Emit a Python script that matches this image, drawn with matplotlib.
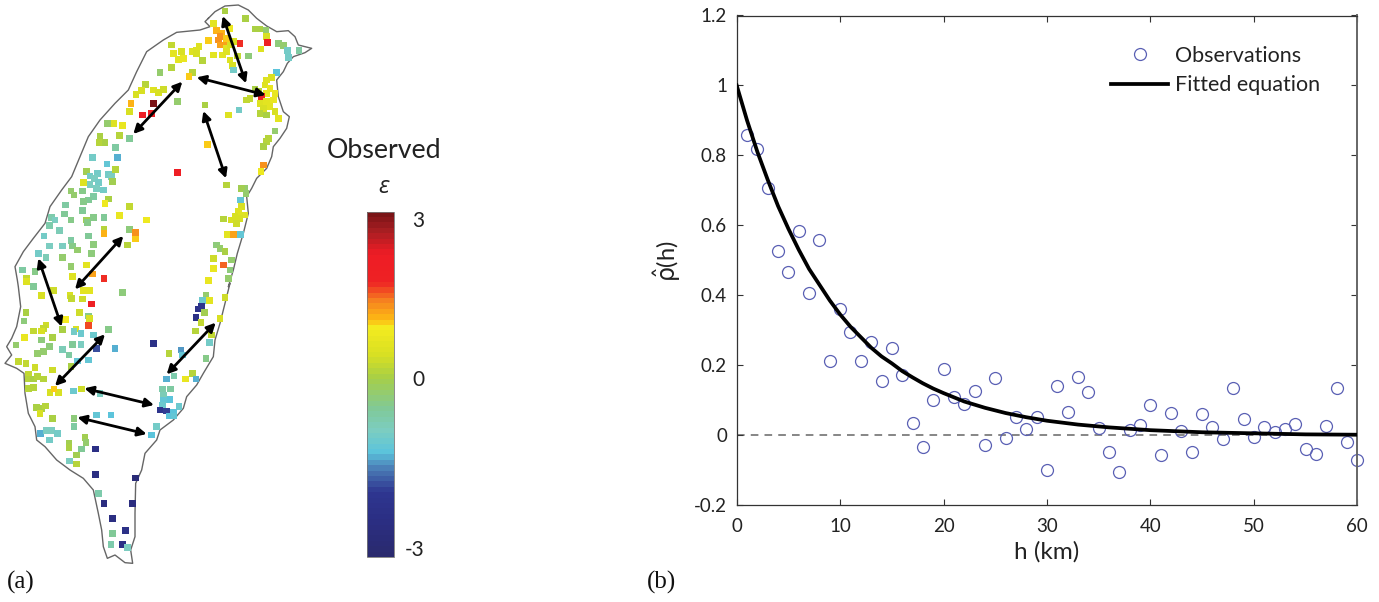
import numpy as np
import matplotlib
matplotlib.use('Agg')
import matplotlib.pyplot as plt
from matplotlib.colors import LinearSegmentedColormap, Normalize
from matplotlib.cm import ScalarMappable

plt.rcParams['font.family'] = ['Lato', 'Open Sans', 'DejaVu Sans']
plt.rcParams['mathtext.fontset'] = 'dejavusans'

# panel (b) data
obs_h = list(range(1, 61))
obs_rho = [0.857, 0.817, 0.708, 0.527, 0.467, 0.585, 0.407, 0.557, 0.212, 0.360,
           0.295, 0.211, 0.265, 0.156, 0.249, 0.173, 0.035, -0.034, 0.100, 0.188,
           0.110, 0.089, 0.125, -0.029, 0.162, -0.008, 0.052, 0.018, 0.051, -0.101,
           0.139, 0.066, 0.166, 0.122, 0.020, -0.049, -0.106, 0.015, 0.028, 0.085,
           -0.057, 0.064, 0.013, -0.048, 0.060, 0.024, -0.012, 0.136, 0.047, -0.006,
           0.023, 0.009, 0.016, 0.033, -0.041, -0.055, 0.027, 0.134, -0.021, -0.071]
fit_h = [0, 1, 2, 3, 4, 5, 6, 7, 8, 9, 10, 11, 12, 13, 14, 15, 16, 17, 18, 19, 20,
         22, 24, 26, 28, 30, 33, 36, 40, 45, 50, 55, 60]
fit_rho = [1.0, 0.90, 0.81, 0.73, 0.655, 0.59, 0.53, 0.475, 0.43, 0.385, 0.345,
           0.31, 0.28, 0.25, 0.225, 0.205, 0.183, 0.165, 0.148, 0.133, 0.12,
           0.096, 0.078, 0.063, 0.051, 0.041, 0.030, 0.022, 0.014, 0.008, 0.005, 0.002, 0.001]
y_ticks = [-0.2, 0, 0.2, 0.4, 0.6, 0.8, 1, 1.2]
y_tick_labels = ['-0.2', '0', '0.2', '0.4', '0.6', '0.8', '1', '1.2']
x_ticks = [0, 10, 20, 30, 40, 50, 60]

# panel (a) data, map units, north and south sheets
north_stations = [
    (675,33,.15),(737,55,.15),(765,87,.15),(780,87,.15),(798,90,-.1),(800,110,.5),(802,127,2.0),(835,130,-.2),
    (850,137,-.1),(862,152,-.9),(897,152,-.5),(865,172,-.9),(783,147,.6),(720,130,1.7),(745,168,-.2),(640,70,.7),
    (650,92,1.2),(665,100,1.2),(680,115,1.1),(655,120,1.4),(670,135,1.3),(625,122,1.1),(660,135,1.3),(680,145,.7),
    (690,135,.5),(700,125,.5),(640,165,.7),(668,165,.7),(690,180,.6),(697,197,.5),(700,210,-.9),(712,168,.3),
    (680,155,.6),(660,110,1.4),(690,85,.9),(515,135,.3),(520,160,.7),(545,155,.5),(535,178,.7),(550,175,.8),
    (578,155,.6),(590,150,.6),(597,140,.6),(590,160,.5),(607,182,.2),(515,203,.2),(480,217,-.1),(578,217,.2),
    (567,230,1.1),(830,217,-1.2),(815,232,.5),(800,240,.6),(795,255,.6),(810,265,.8),(825,280,.8),(800,280,.8),
    (785,290,1.8),(775,275,.2),(765,268,.1),(750,295,.3),(740,300,.3),(780,310,.6),(800,305,.7),(820,300,.8),
    (810,320,.7),(790,325,.5),(780,340,.2),(800,345,.1),(825,335,.5),(835,355,.7),(717,330,-.9),(685,345,.6),
    (615,315,.1),(532,305,-.1),(437,253,.2),(425,272,.5),(408,283,.5),(460,270,.6),(475,277,.5),(490,268,.4),
    (393,310,1.2),(460,310,3.0),(388,335,.5),(428,345,2.1),(455,340,1.9),(322,370,-.1),(342,370,.6),(368,376,.8),
    (300,408,.1),(358,407,.2),(388,415,-.4),(297,427,.2),(315,427,.1),(347,442,-.5),(352,473,-1.3),(278,473,-.9),
    (321,492,-1.1),(347,508,.2),(260,515,.0),(293,520,-.9),(270,528,-.9),(325,523,-.9),(335,530,-.8),(250,548,.6),
    (337,545,.0),(283,535,-.8),(295,548,-.9),(270,553,-.8),(310,570,-.9),(290,565,-.8),(213,573,-.1),(222,585,-.1),
    (248,573,-.3),(280,590,-.5),(265,600,-.4),(250,605,-.3),(325,597,.1),(315,610,.9),(197,615,-.5),(247,632,-.4),
    (388,620,.3),(193,642,-.4),(358,647,.8),(440,660,.9),(155,652,-.6),(165,660,-.8),(213,660,-.3),(260,660,.0),
    (280,652,-.3),(312,652,-.4),(262,668,-.3),(148,677,-.6),(178,692,-.7),(312,687,.2),(312,700,1.2),(388,688,-.2),
    (407,697,1.4),(407,717,1.1),(132,708,-.9),(265,708,-.4),(213,722,-.5),(148,738,-.8),(187,738,-.8),(218,738,-.3),
    (233,750,-.1),(280,733,-.2),(383,735,.2),(115,760,-.9),(138,773,-.7),(275,760,-.2),(187,773,-.1),(260,795,.7),
    (213,800,-.1),(68,810,-.5),(105,815,-.3),(80,835,.3),(218,830,.6),(277,822,1.3),(312,835,1.7),(100,860,-.6),
    (680,555,.2),(622,433,1.1),(532,518,2.1),(790,495,1.4),(783,515,.9),(825,393,-.1),(805,415,.2),(800,425,.2),
    (790,440,.1),(735,565,-.1),(725,565,.0),(738,580,-.1),(722,600,-1.1),(725,620,.5),(715,635,.6),(735,645,.6),
    (720,655,.5),(705,650,.5),(695,660,.5),(670,657,.2),(710,670,.4),(683,703,.7),(700,703,1.3),(722,703,-1.1),
    (650,735,-.2),(660,745,-.1),(675,755,.1),(640,775,.4),(695,780,-.1),(640,805,.8),(670,795,1.5),(690,810,-.2),
    (685,835,-.1),(625,842,.8),
]
south_stations = [
    (80,5,.6),(100,20,-.4),(125,47,.5),(160,32,.4),(210,47,.5),(215,55,.3),(250,32,.7),(268,32,.7),(248,57,.4),
    (368,37,-.2),(275,72,1.9),(78,97,.1),(72,123,-.2),(238,97,.4),(265,108,-.3),(268,115,.5),(197,118,1.0),
    (265,137,1.6),(138,135,.4),(130,145,.3),(100,153,.3),(125,153,.5),(73,173,.8),(187,148,.1),(228,147,.5),
    (222,155,-.9),(243,160,-1.0),(280,165,-1.0),(325,148,-.3),(125,180,-.2),(158,173,.1),(48,195,-.1),(148,200,-.2),
    (218,193,-.4),(243,193,-.8),(290,205,-1.7),(345,205,-1.3),(112,220,-.1),(130,215,-.1),(187,208,-.7),(207,225,-.5),
    (265,240,-1.1),(232,243,-1.1),(55,245,.3),(78,250,.3),(105,262,.4),(158,270,.4),(213,260,.1),(85,283,.3),
    (85,297,.2),(100,297,.1),(112,290,.2),(130,297,.2),(85,325,.2),(100,322,.2),(150,337,.5),(175,337,.5),
    (162,327,1.1),(220,333,-1.0),(245,327,.4),(300,340,-.8),(110,383,.1),(125,385,.1),(137,378,.2),(120,400,.5),
    (158,415,.1),(222,415,-.2),(222,440,-.5),(290,405,-1.1),(333,405,-1.2),(122,460,-1.3),(140,452,-.8),(155,452,-.8),
    (172,460,-.9),(148,480,-.9),(255,472,.0),(258,487,-.1),(207,490,.0),(207,503,.1),(245,507,-.4),(287,507,-2.3),
    (230,525,.0),(208,543,-.8),(230,552,.2),(287,583,-2.4),(407,594,-2.7),(295,640,-.6),(312,670,-2.5),(397,670,-2.5),
    (337,716,-2.4),(377,751,-2.2),(337,760,-.4),(333,793,-.6),(367,793,-2.3),(382,803,-.8),
    (618,45,-.1),(608,62,-1.0),(628,62,.7),(675,52,.4),(595,87,-2.1),(605,80,-2.0),(613,97,.0),(588,112,-2.2),
    (660,115,.5),(603,128,.3),(587,153,.2),(635,165,.3),(628,188,-.9),(460,190,-2.2),(543,210,-1.4),(507,220,.2),
    (547,225,-1.1),(618,235,-.3),(578,280,.2),(522,288,-.6),(500,297,-1.3),(557,297,.8),(588,297,-1.3),(487,327,-.6),
    (512,327,-.5),(490,345,-.7),(510,358,-1.2),(490,360,-1.1),(487,375,-1.0),(480,390,-2.0),(500,393,-1.8),(537,380,-1.0),
    (520,398,-1.2),(507,408,-1.2),(522,408,-1.1),(470,440,-.9),(455,465,-1.2),
]
outline_x = [625,645,675,715,745,770,800,830,865,885,895,935,915,880,862,850,830,835,850,868,860,840,820,815,800,770,755,740,
             745,730,712,700,685,690,675,660,645,640,610,590,560,550,520,480,470,435,425,407,405,405,392,398,375,345,322,310,
             305,295,280,250,210,170,135,110,105,85,75,72,50,15,35,20,35,50,62,55,52,45,70,100,135,150,185,215,240,265,300,
             345,385,410,440,490,530,600,630,615,625]
outline_y = [55,35,18,15,30,55,78,95,92,110,135,145,158,170,190,215,240,290,335,350,385,415,440,470,505,535,565,590,
             640,700,760,810,860,850,910,970,1020,1070,1120,1155,1190,1225,1260,1290,1320,1360,1410,1450,1540,1610,1650,1690,1688,1665,1675,1640,
             1590,1540,1470,1435,1410,1380,1340,1320,1280,1240,1180,1120,1105,1090,1065,1040,1015,980,920,860,840,800,755,715,670,620,570,530,470,410,360,
             310,270,215,155,120,97,90,80,65,55]
arrow_starts = [(668,48),(590,232),(547,245),(610,333),(370,708),(115,775),(315,1003),(253,1165),(232,1252),(647,968)]
arrow_ends = [(738,250),(797,285),(400,402),(678,535),(225,868),(185,980),(165,1158),(462,1215),(440,1302),(500,1123)]

# colorbar stops
cbar_values = [-3, -2.4, -1.9, -1.5, -1.2, -0.8, -0.45, 0.13, 0.5, 1.0, 1.15, 1.47, 1.8, 2.3, 2.7, 3]
cbar_colors = ['#2a2a6e', '#2b2e83', '#2e3690', '#4a7ab5', '#5bc4dc', '#7dcdc0', '#7fc99a', '#a8cf45', '#d7df23',
               '#f4eb1f', '#fdb913', '#f58220', '#ee2224', '#ee1c25', '#a81e22', '#7a1416']

W, H = 1379, 602
fig = plt.figure(figsize=(W / 100, H / 100), dpi=100)

# panel (a)
cmap = LinearSegmentedColormap.from_list('obs', [((v + 3) / 6, c) for v, c in zip(cbar_values, cbar_colors)], N=64)
norm = Normalize(-3, 3)
ax_map = fig.add_axes([0, 32 / H, 320 / W, 570 / H])
ax_map.set_xlim(0, 960)
ax_map.set_ylim(1710, 0)
ax_map.axis('off')
ax_map.plot(outline_x, outline_y, color='#666666', lw=1.0, zorder=1)

sx = [s[0] for s in north_stations] + [s[0] for s in south_stations]
sy = [s[1] for s in north_stations] + [s[1] + 840 for s in south_stations]
se = [s[2] for s in north_stations] + [s[2] for s in south_stations]
ax_map.scatter(sx, sy, c=se, cmap=cmap, norm=norm, marker='s', s=24, linewidths=0, zorder=2)

for a, b in zip(arrow_starts, arrow_ends):
    ax_map.annotate('', xy=b, xytext=a, zorder=3,
                    arrowprops=dict(arrowstyle='<|-|>', color='black', lw=2.0, mutation_scale=13,
                                    shrinkA=0, shrinkB=0))

# colorbar
cax = fig.add_axes([367 / W, (H - 557) / H, 27 / W, 345.3 / H])
cb = fig.colorbar(ScalarMappable(norm=norm, cmap=cmap), cax=cax)
cb.set_ticks([2.88, 0.11, -2.85], labels=['3', '0', '-3'])
cb.ax.tick_params(length=0, pad=22, labelsize=15, labelcolor='#222222')
for lab in cb.ax.get_yticklabels():
    lab.set_ha('right')
cb.outline.set_edgecolor('#777777')
cb.outline.set_linewidth(0.6)

fig.text(384 / W, 1 - 151 / H, 'Observed', ha='center', va='center', fontsize=19.3, color='#222222')
fig.text(384 / W, 1 - 187 / H, 'ε', ha='center', va='center', fontsize=17, style='italic',
         family=['Open Sans', 'DejaVu Sans'], color='#222222')
fig.text(7 / W, 1 - 582 / H, '(a)', ha='left', va='center', fontsize=18, family='Liberation Serif', color='#111111')
fig.text(647 / W, 1 - 582 / H, '(b)', ha='left', va='center', fontsize=18, family='Liberation Serif', color='#111111')

# panel (b)
ax = fig.add_axes([736.7 / W, (H - 505) / H, 620.6 / W, 489.5 / H])
ax.axhline(0, color='#666666', lw=1.1, ls=(0, (5, 4)), zorder=1)
ax.plot(obs_h, obs_rho, 'o', mfc='none', mec='#5a60b4', mew=0.9, ms=8.6, clip_on=False, zorder=2, label='Observations')
ax.plot(fit_h, fit_rho, color='black', lw=2.7, zorder=3, label='Fitted equation')
ax.set_xlim(0, 60)
ax.set_ylim(-0.2, 1.2)
ax.set_xticks(x_ticks)
ax.set_yticks(y_ticks)
ax.set_yticklabels(y_tick_labels)
ax.tick_params(direction='in', top=True, right=True, length=4, width=0.8, labelsize=13.5, labelcolor='#222222', color='#333333', pad=7)
ax.tick_params(axis='x', pad=9)
for name, spine in ax.spines.items():
    spine.set_color('#333333')
    spine.set_linewidth(0.9)
ax.spines['right'].set_color('#666666')
ax.spines['right'].set_linewidth(1.4)
ax.set_xlabel('h (km)', fontsize=17.5, labelpad=5, color='#222222')

fig.text(667 / W, 1 - 261 / H, r'$\hat{\mathrm{\rho}}$(h)', rotation=90, ha='center', va='center', fontsize=17, color='#222222')

ax.legend(loc='upper left', bbox_to_anchor=(1111 / W, 1 - 46 / H), bbox_transform=fig.transFigure, frameon=False,
          fontsize=15.5, handlelength=2.65, handletextpad=0.3, labelspacing=0.42, borderpad=0, borderaxespad=0, labelcolor='#222222')

fig.savefig('out.png', dpi=100)
